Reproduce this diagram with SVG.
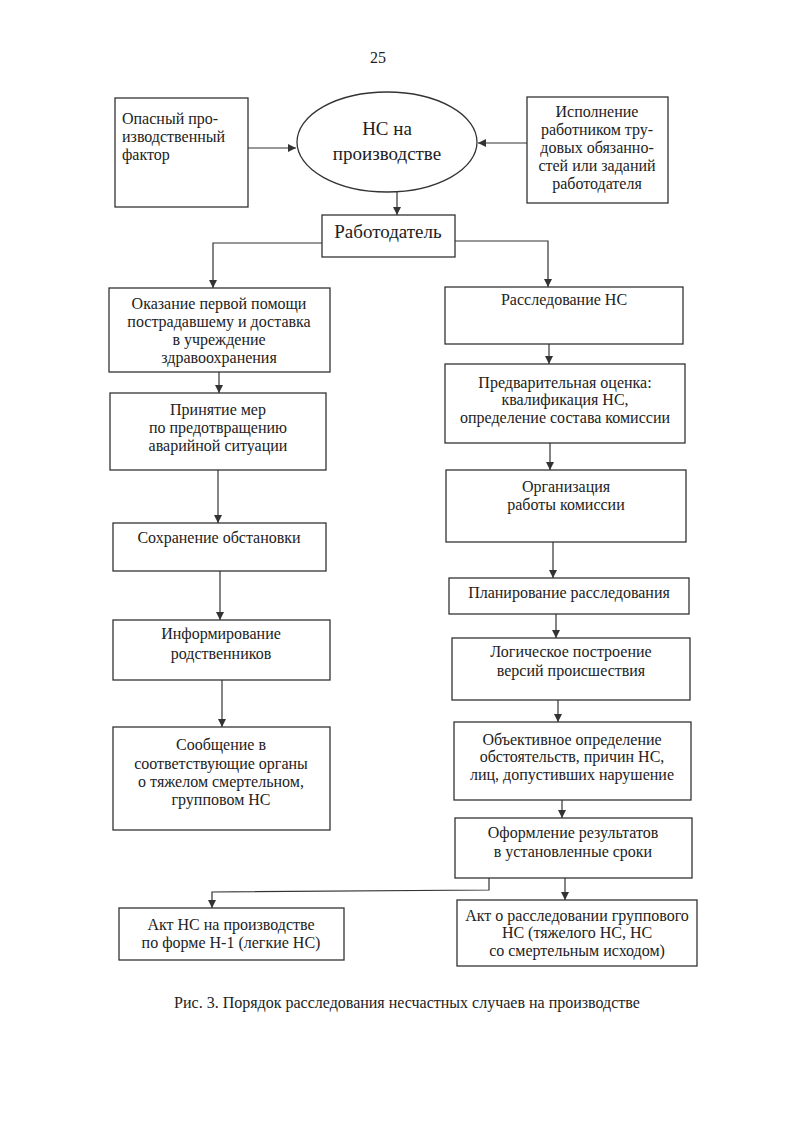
<svg xmlns="http://www.w3.org/2000/svg" width="793" height="1122" viewBox="0 0 793 1122">
<defs>
<marker id="ah" viewBox="0 0 10 10" refX="10" refY="5" markerWidth="8" markerHeight="8" markerUnits="userSpaceOnUse" orient="auto">
<path d="M0,0 L10,5 L0,10 z" fill="#333"/>
</marker>
</defs>
<style>
.box{fill:#fff;stroke:#333;stroke-width:1.3}
.t{font-family:"Liberation Serif","Times New Roman",serif;font-size:16px;fill:#222;text-anchor:middle}
.tl{text-anchor:start}
.big{font-size:19px}
.ln{fill:none;stroke:#333;stroke-width:1.2}
.ar{fill:none;stroke:#333;stroke-width:1.2;marker-end:url(#ah)}
</style>
<rect width="793" height="1122" fill="#fff"/>
<text class="t" x="378" y="63">25</text>

<g id="connectors">
<line class="ar" x1="248" y1="148" x2="296" y2="148"/>
<line class="ar" x1="527" y1="143" x2="478" y2="143"/>
<line class="ar" x1="397" y1="192" x2="397" y2="215"/>
<polyline class="ar" points="322,243 213,243 213,288"/>
<polyline class="ar" points="455,241 548,241 548,287"/>
<line class="ar" x1="219" y1="372" x2="219" y2="393"/>
<line class="ar" x1="218" y1="470" x2="218" y2="523"/>
<line class="ar" x1="220" y1="571" x2="220" y2="620"/>
<line class="ar" x1="222" y1="680" x2="222" y2="727"/>
<line class="ar" x1="549" y1="344" x2="549" y2="364"/>
<line class="ar" x1="550" y1="443" x2="550" y2="470"/>
<line class="ar" x1="553" y1="542" x2="553" y2="578"/>
<line class="ar" x1="556" y1="614" x2="556" y2="638"/>
<line class="ar" x1="558" y1="700" x2="558" y2="722"/>
<line class="ar" x1="562" y1="800" x2="562" y2="818"/>
<polyline class="ar" points="489,878 489,890 212,892 212,908"/>
<line class="ar" x1="565" y1="878" x2="565" y2="900"/>
</g>

<g id="n-factor">
<rect class="box" x="115" y="98" width="133" height="109"/>
<text class="t tl" x="122" y="124">Опасный про-</text>
<text class="t tl" x="122" y="142">изводственный</text>
<text class="t tl" x="122" y="160">фактор</text>
</g>

<g id="n-ns">
<ellipse class="box" cx="387" cy="142" rx="90" ry="50"/>
<text class="t big" x="387" y="135">НС на</text>
<text class="t big" x="387" y="160">производстве</text>
</g>

<g id="n-duty">
<rect class="box" x="527" y="97" width="141" height="106"/>
<text class="t" x="597" y="117">Исполнение</text>
<text class="t" x="597" y="135">работником тру-</text>
<text class="t" x="597" y="153">довых обязанно-</text>
<text class="t" x="597" y="171">стей или заданий</text>
<text class="t" x="597" y="189">работодателя</text>
</g>

<g id="n-employer">
<rect class="box" x="322" y="215" width="133" height="42"/>
<text class="t big" x="388" y="238">Работодатель</text>
</g>

<g id="n-aid">
<rect class="box" x="109" y="288" width="221" height="84"/>
<text class="t" x="219" y="309">Оказание первой помощи</text>
<text class="t" x="219" y="327">пострадавшему и доставка</text>
<text class="t" x="219" y="345">в учреждение</text>
<text class="t" x="219" y="363">здравоохранения</text>
</g>

<g id="n-measures">
<rect class="box" x="110" y="393" width="216" height="77"/>
<text class="t" x="218" y="415">Принятие мер</text>
<text class="t" x="218" y="433">по предотвращению</text>
<text class="t" x="218" y="451">аварийной ситуации</text>
</g>

<g id="n-keep">
<rect class="box" x="113" y="523" width="213" height="48"/>
<text class="t" x="219" y="543">Сохранение обстановки</text>
</g>

<g id="n-inform">
<rect class="box" x="113" y="620" width="217" height="60"/>
<text class="t" x="221" y="639">Информирование</text>
<text class="t" x="221" y="659">родственников</text>
</g>

<g id="n-report">
<rect class="box" x="113" y="727" width="217" height="103"/>
<text class="t" x="221" y="750">Сообщение в</text>
<text class="t" x="221" y="769">соответствующие органы</text>
<text class="t" x="221" y="787">о тяжелом смертельном,</text>
<text class="t" x="221" y="805">групповом НС</text>
</g>

<g id="n-invest">
<rect class="box" x="445" y="287" width="238" height="57"/>
<text class="t" x="564" y="305">Расследование НС</text>
</g>

<g id="n-prelim">
<rect class="box" x="445" y="364" width="240" height="79"/>
<text class="t" x="565" y="388">Предварительная оценка:</text>
<text class="t" x="565" y="405">квалификация НС,</text>
<text class="t" x="565" y="423">определение состава комиссии</text>
</g>

<g id="n-org">
<rect class="box" x="446" y="470" width="240" height="72"/>
<text class="t" x="566" y="492">Организация</text>
<text class="t" x="566" y="510">работы комиссии</text>
</g>

<g id="n-plan">
<rect class="box" x="449" y="578" width="240" height="36"/>
<text class="t" x="569" y="598">Планирование расследования</text>
</g>

<g id="n-logic">
<rect class="box" x="452" y="638" width="238" height="62"/>
<text class="t" x="571" y="657">Логическое построение</text>
<text class="t" x="571" y="676">версий происшествия</text>
</g>

<g id="n-objective">
<rect class="box" x="454" y="722" width="237" height="78"/>
<text class="t" x="572" y="745">Объективное определение</text>
<text class="t" x="572" y="762">обстоятельств, причин НС,</text>
<text class="t" x="572" y="780">лиц, допустивших нарушение</text>
</g>

<g id="n-results">
<rect class="box" x="455" y="818" width="237" height="60"/>
<text class="t" x="573" y="838">Оформление результатов</text>
<text class="t" x="573" y="857">в установленные сроки</text>
</g>

<g id="n-act1">
<rect class="box" x="119" y="908" width="225" height="52"/>
<text class="t" x="231" y="930">Акт НС на производстве</text>
<text class="t" x="231" y="948">по форме Н-1 (легкие НС)</text>
</g>

<g id="n-act2">
<rect class="box" x="457" y="900" width="240" height="66"/>
<text class="t" x="577" y="921">Акт о расследовании группового</text>
<text class="t" x="577" y="938">НС (тяжелого НС, НС</text>
<text class="t" x="577" y="956">со смертельным исходом)</text>
</g>

<text class="t" x="407" y="1008">Рис. 3. Порядок расследования несчастных случаев на производстве</text>
</svg>
